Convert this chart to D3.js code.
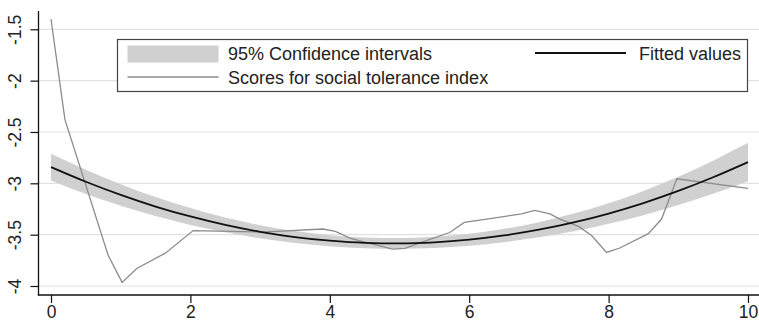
<!DOCTYPE html>
<html>
<head>
<meta charset="utf-8">
<script src="https://cdn.jsdelivr.net/npm/d3@7"></script>
<style>
  body { margin: 0; background: #fff; }
  svg { display: block; font-family: "Liberation Sans", Arial, sans-serif; }
</style>
</head>
<body>
<div id="chart"></div>
<script>
// fitted quadratic + 95% CI at every half unit
var fitX = [0, 0.5, 1, 1.5, 2, 2.5, 3, 3.5, 4, 4.5, 5, 5.5, 6, 6.5, 7, 7.5, 8, 8.5, 9, 9.5, 10]
var fitted = [-2.842, -2.985, -3.113, -3.226, -3.323, -3.405, -3.472, -3.523, -3.559, -3.580, -3.585,
              -3.575, -3.549, -3.508, -3.452, -3.381, -3.294, -3.192, -3.074, -2.941, -2.793]
var ciUpper = [-2.712, -2.867, -3.008, -3.133, -3.241, -3.333, -3.408, -3.465, -3.505, -3.528, -3.533,
               -3.521, -3.491, -3.443, -3.378, -3.295, -3.194, -3.074, -2.936, -2.780, -2.606]
var ciLower = [-2.972, -3.103, -3.218, -3.319, -3.405, -3.477, -3.536, -3.581, -3.613, -3.632, -3.637,
               -3.629, -3.607, -3.573, -3.526, -3.467, -3.394, -3.310, -3.212, -3.102, -2.980]

// observed scores (grey line)
var scoreX = [0, 0.2, 0.82, 1.02, 1.23, 1.64, 2.04, 3.02, 3.9, 4.08, 4.29, 4.46, 4.9, 5.08, 5.29,
              5.72, 5.93, 6.35, 6.75, 6.94, 7.16, 7.3, 7.57, 7.76, 7.97, 8.16, 8.57, 8.76, 8.98, 10]
var scores = [-1.40, -2.38, -3.70, -3.965, -3.83, -3.68, -3.46, -3.475, -3.445, -3.468, -3.533, -3.566, -3.640, -3.634, -3.58,
              -3.479, -3.381, -3.339, -3.297, -3.264, -3.297, -3.348, -3.42, -3.511, -3.673, -3.63, -3.49, -3.348, -2.956, -3.05]

var xTicks = [0, 2, 4, 6, 8, 10]
var yTicks = [-4, -3.5, -3, -2.5, -2, -1.5]
var legendLabels = ["95% Confidence intervals", "Fitted values", "Scores for social tolerance index"]

var width = 759, height = 324
var plot = {left: 38.5, right: 759, top: 11, bottom: 295}

var svg = d3.select("#chart").append("svg")
    .attr("width", width).attr("height", height)

var x = d3.scaleLinear().domain([0, 10]).range([51, 748])
var y = d3.scaleLinear().domain([-4, -1.5]).range([286, 29.3])

// gridlines
svg.append("g").selectAll("line").data(yTicks).enter().append("line")
    .attr("x1", plot.left).attr("x2", plot.right)
    .attr("y1", function (d) { return y(d) }).attr("y2", function (d) { return y(d) })
    .attr("stroke", "#e1e1e1").attr("stroke-width", 1.2)

// confidence band
var band = fitX.map(function (d, i) { return {x: d, lo: ciLower[i], hi: ciUpper[i], f: fitted[i]} })
svg.append("path").datum(band)
    .attr("fill", "#d0d0d0")
    .attr("d", d3.area().curve(d3.curveMonotoneX)
        .x(function (d) { return x(d.x) })
        .y0(function (d) { return y(d.lo) })
        .y1(function (d) { return y(d.hi) }))

// scores
var pts = scoreX.map(function (d, i) { return [d, scores[i]] })
svg.append("path").datum(pts)
    .attr("fill", "none").attr("stroke", "#8c8c8c").attr("stroke-width", 1.3)
    .attr("d", d3.line().x(function (d) { return x(d[0]) }).y(function (d) { return y(d[1]) }))

// fitted
svg.append("path").datum(band)
    .attr("fill", "none").attr("stroke", "#111").attr("stroke-width", 1.8)
    .attr("d", d3.line().curve(d3.curveMonotoneX)
        .x(function (d) { return x(d.x) }).y(function (d) { return y(d.f) }))

// axes (plain hyphen for negatives, like the original)
var yAxis = svg.append("g").attr("transform", "translate(" + plot.left + ",0)")
    .call(d3.axisLeft(y).tickValues(yTicks).tickSize(8).tickFormat(function (d) { return String(d) }))
yAxis.select(".domain").remove()
yAxis.selectAll(".tick line").attr("stroke", "#111").attr("stroke-width", 1.2)
yAxis.selectAll(".tick text")
    .attr("x", null).attr("dy", null)
    .attr("transform", "translate(-17.5,0) rotate(-90)")
    .attr("text-anchor", "middle")
    .attr("font-size", 17.5).attr("font-family", "Liberation Sans, Arial, sans-serif").attr("fill", "#222")

var xAxis = svg.append("g").attr("transform", "translate(0," + plot.bottom + ")")
    .call(d3.axisBottom(x).tickValues(xTicks).tickSize(8).tickFormat(function (d) { return String(d) }))
xAxis.select(".domain").remove()
xAxis.selectAll(".tick line").attr("stroke", "#111").attr("stroke-width", 1.2)
xAxis.selectAll(".tick text")
    .attr("y", 23).attr("dy", null)
    .attr("font-size", 17.5).attr("font-family", "Liberation Sans, Arial, sans-serif").attr("fill", "#222")

svg.append("line").attr("x1", plot.left).attr("x2", plot.left)
    .attr("y1", plot.top).attr("y2", plot.bottom + 0.6)
    .attr("stroke", "#111").attr("stroke-width", 1.3)
svg.append("line").attr("x1", plot.left - 0.6).attr("x2", plot.right)
    .attr("y1", plot.bottom).attr("y2", plot.bottom)
    .attr("stroke", "#111").attr("stroke-width", 1.3)

// legend
var lg = svg.append("g").attr("font-size", 18).attr("fill", "#222")
lg.append("rect").attr("x", 117.5).attr("y", 39.5).attr("width", 630).attr("height", 52)
    .attr("fill", "#fff").attr("stroke", "#444").attr("stroke-width", 1.2)
lg.append("rect").attr("x", 127.5).attr("y", 45.5).attr("width", 91).attr("height", 17)
    .attr("fill", "#d0d0d0")
lg.append("text").attr("x", 228).attr("y", 60).text(legendLabels[0])
lg.append("line").attr("x1", 535).attr("x2", 626).attr("y1", 53).attr("y2", 53)
    .attr("stroke", "#111").attr("stroke-width", 1.8)
lg.append("text").attr("x", 741).attr("y", 60).attr("text-anchor", "end").text(legendLabels[1])
lg.append("line").attr("x1", 127.5).attr("x2", 218.5).attr("y1", 77).attr("y2", 77)
    .attr("stroke", "#8c8c8c").attr("stroke-width", 1.3)
lg.append("text").attr("x", 228).attr("y", 83.5).text(legendLabels[2])
</script>
</body>
</html>
